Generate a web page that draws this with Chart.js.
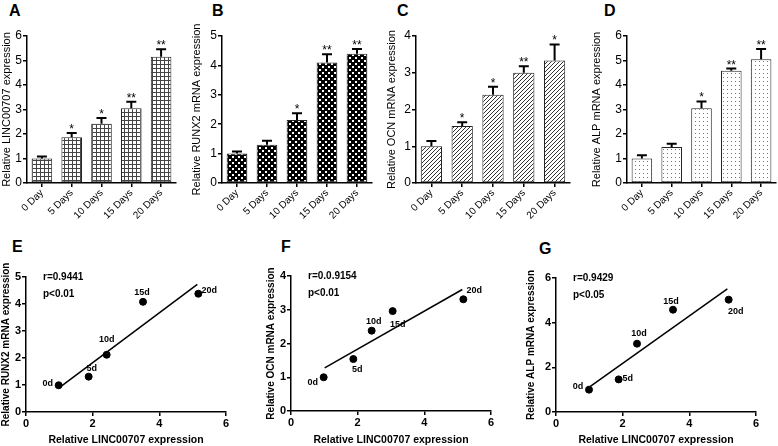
<!DOCTYPE html>
<html>
<head>
<meta charset="utf-8">
<title>LINC00707 osteogenic differentiation</title>
<script src="https://cdn.jsdelivr.net/npm/chart.js"></script>
<style>
  body { margin:0; width:778px; height:446px; position:relative; background:#fff; overflow:hidden;
         font-family:"Liberation Sans", Arial, sans-serif; }
  canvas { position:absolute; }
  .lab { position:absolute; font-weight:bold; font-size:16px; line-height:16px; color:#000; }
</style>
</head>
<body>
<div class="lab" style="left:9px;top:3px">A</div>
<div class="lab" style="left:212px;top:3px">B</div>
<div class="lab" style="left:397px;top:3px">C</div>
<div class="lab" style="left:604px;top:3px">D</div>
<div class="lab" style="left:12px;top:239px">E</div>
<div class="lab" style="left:281px;top:239px">F</div>
<div class="lab" style="left:539px;top:241px">G</div>

<canvas id="cA" width="185" height="225" style="left:0;top:0"></canvas>
<canvas id="cB" width="190" height="225" style="left:190px;top:0"></canvas>
<canvas id="cC" width="190" height="225" style="left:385px;top:0"></canvas>
<canvas id="cD" width="188" height="225" style="left:590px;top:0"></canvas>
<canvas id="cE" width="250" height="221" style="left:0;top:225px"></canvas>
<canvas id="cF" width="250" height="221" style="left:265px;top:225px"></canvas>
<canvas id="cG" width="253" height="221" style="left:525px;top:225px"></canvas>

<script>
// ---- data ----
const days = ['0 Day', '5 Days', '10 Days', '15 Days', '20 Days'];

const lincMean  = [1.00, 1.87, 2.42, 3.05, 5.15];
const lincErr   = [0.08, 0.17, 0.23, 0.27, 0.31];
const lincStars = ['', '*', '*', '**', '**'];

const runx2Mean  = [1.00, 1.30, 2.14, 4.10, 4.40];
const runx2Err   = [0.07, 0.14, 0.23, 0.28, 0.16];
const runx2Stars = ['', '', '*', '**', '**'];

const ocnMean  = [1.00, 1.55, 2.40, 3.00, 3.33];
const ocnErr   = [0.14, 0.10, 0.22, 0.18, 0.44];
const ocnStars = ['', '*', '*', '**', '*'];

const alpMean  = [1.00, 1.47, 3.05, 4.58, 5.05];
const alpErr   = [0.13, 0.13, 0.28, 0.09, 0.42];
const alpStars = ['', '', '*', '**', '**'];

const pointLabels = ['0d', '5d', '10d', '15d', '20d'];

const eX = [0.98, 1.88, 2.42, 3.51, 5.17];
const eY = [0.99, 1.31, 2.12, 4.08, 4.38];
const eFitX = [1.03, 5.14];
const eFitY = [0.93, 4.73];

const fX = [0.98, 1.87, 2.42, 3.05, 5.17];
const fY = [1.00, 1.54, 2.38, 2.96, 3.31];
const fFitX = [1.01, 5.14];
const fFitY = [1.28, 3.60];

const gX = [0.99, 1.88, 2.43, 3.51, 5.18];
const gY = [1.00, 1.46, 3.06, 4.58, 5.03];
const gFitX = [1.03, 5.14];
const gFitY = [1.15, 5.51];

Chart.defaults.font.family = '"Liberation Sans", Arial, sans-serif';
Chart.defaults.color = '#000';

// ---- fill patterns for the bars ----
function tile(size, draw) {
  const c = document.createElement('canvas');
  c.width = size; c.height = size;
  const g = c.getContext('2d');
  draw(g, size);
  return g.createPattern(c, 'repeat');
}
const patGrid = tile(4, (g, s) => {
  g.fillStyle = '#fff'; g.fillRect(0, 0, s, s);
  g.fillStyle = '#444'; g.fillRect(0, 0, s, 1); g.fillRect(0, 0, 1, s);
});
const patDiamond = tile(6, (g, s) => {
  g.fillStyle = '#000'; g.fillRect(0, 0, s, s);
  g.fillStyle = '#fff'; g.fillRect(0, 0, 2, 2); g.fillRect(3, 3, 2, 2);
});
const patHatch = tile(4, (g, s) => {
  g.fillStyle = '#fff'; g.fillRect(0, 0, s, s);
  g.strokeStyle = '#333'; g.lineWidth = 1;
  g.beginPath();
  g.moveTo(-1, s + 1); g.lineTo(s + 1, -1);
  g.moveTo(-1, 1); g.lineTo(1, -1);
  g.moveTo(s - 1, s + 1); g.lineTo(s + 1, s - 1);
  g.stroke();
});
const patDots = tile(4, (g, s) => {
  g.fillStyle = '#fff'; g.fillRect(0, 0, s, s);
  g.fillStyle = '#777'; g.fillRect(1, 1, 1, 1);
});

// error bars (upward only) and significance stars
function errPlugin(mean, err, stars) {
  return {
    id: 'errbars',
    afterDatasetsDraw(chart) {
      const ctx = chart.ctx, xs = chart.scales.x, ys = chart.scales.y;
      ctx.save();
      ctx.strokeStyle = '#000';
      ctx.lineWidth = 2;
      mean.forEach((m, i) => {
        const x = xs.getPixelForValue(i);
        const y0 = ys.getPixelForValue(m);
        const y1 = ys.getPixelForValue(m + err[i]);
        ctx.beginPath();
        ctx.moveTo(x, y0); ctx.lineTo(x, y1);
        ctx.moveTo(x - 5, y1); ctx.lineTo(x + 5, y1);
        ctx.stroke();
        if (stars[i]) {
          ctx.fillStyle = '#000';
          ctx.font = '12px "Liberation Sans", Arial, sans-serif';
          ctx.textAlign = 'center';
          ctx.textBaseline = 'alphabetic';
          ctx.fillText(stars[i], x, y1);
        }
      });
      ctx.restore();
    }
  };
}

function barChart(id, mean, err, stars, yMax, title, pattern, box) {
  new Chart(document.getElementById(id), {
    type: 'bar',
    data: {
      labels: days,
      datasets: [{
        data: mean,
        backgroundColor: pattern,
        borderColor: '#222',
        borderWidth: 1,
        borderSkipped: false,
        categoryPercentage: 1,
        barPercentage: 0.69
      }]
    },
    options: {
      responsive: false,
      animation: false,
      layout: { padding: { left: 0, top: box.top, right: box.right, bottom: 0 } },
      plugins: { legend: { display: false }, tooltip: { enabled: false } },
      scales: {
        x: {
          ticks: { font: { size: 10 }, minRotation: 45, maxRotation: 45, padding: 0 },
          grid: { drawOnChartArea: false, offset: false, color: '#000', tickLength: 4, lineWidth: 1.5 },
          border: { color: '#000', width: 1.5 },
          afterFit: s => { s.height = box.xh; }
        },
        y: {
          min: 0, max: yMax,
          ticks: { stepSize: 1, font: { size: 12 }, padding: 1 },
          grid: { drawOnChartArea: false, color: '#000', tickLength: 4, lineWidth: 1.5 },
          border: { color: '#000', width: 1.5 },
          title: { display: true, text: title, font: { size: 11 }, padding: 0 },
          afterFit: s => { s.width = box.yw; }
        }
      }
    },
    plugins: [errPlugin(mean, err, stars)]
  });
}

barChart('cA', lincMean, lincErr, lincStars, 6, 'Relative LINC00707 expression', patGrid,
  { top: 36, right: 9, xh: 42, yw: 27 });
barChart('cB', runx2Mean, runx2Err, runx2Stars, 5, 'Relative RUNX2 mRNA expression', patDiamond,
  { top: 36, right: 8, xh: 42, yw: 32 });
barChart('cC', ocnMean, ocnErr, ocnStars, 4, 'Relative OCN mRNA expression', patHatch,
  { top: 36, right: 5, xh: 42, yw: 31 });
barChart('cD', alpMean, alpErr, alpStars, 6, 'Relative ALP mRNA expression', patDots,
  { top: 36, right: 2, xh: 42, yw: 37 });

// point labels and r / p text for the correlation plots
function scatterText(xs, ys, offs, r, p) {
  return {
    id: 'sctext',
    afterDatasetsDraw(chart) {
      const ctx = chart.ctx, sx = chart.scales.x, sy = chart.scales.y, a = chart.chartArea;
      ctx.save();
      ctx.fillStyle = '#000';
      ctx.textAlign = 'center';
      ctx.textBaseline = 'middle';
      ctx.font = 'bold 9px "Liberation Sans", Arial, sans-serif';
      xs.forEach((v, i) => {
        ctx.fillText(pointLabels[i], sx.getPixelForValue(v) + offs[i][0], sy.getPixelForValue(ys[i]) + offs[i][1]);
      });
      ctx.textAlign = 'left';
      ctx.font = 'bold 10px "Liberation Sans", Arial, sans-serif';
      ctx.fillText(r, a.left + 17, a.top + 0);
      ctx.fillText(p, a.left + 17, a.top + 17);
      ctx.restore();
    }
  };
}

function scatterChart(id, xs, ys, fitX, fitY, yMax, yStep, title, offs, r, p, box) {
  new Chart(document.getElementById(id), {
    type: 'scatter',
    data: {
      datasets: [{
        data: xs.map((v, i) => ({ x: v, y: ys[i] })),
        backgroundColor: '#000', borderColor: '#000', pointRadius: 3.5
      }, {
        type: 'line',
        data: fitX.map((v, i) => ({ x: v, y: fitY[i] })),
        borderColor: '#000', borderWidth: 1.5, pointRadius: 0, fill: false
      }]
    },
    options: {
      responsive: false,
      animation: false,
      layout: { padding: { left: 0, top: box.top, right: box.right, bottom: 0 } },
      plugins: { legend: { display: false }, tooltip: { enabled: false } },
      scales: {
        x: {
          type: 'linear', min: 0, max: 6,
          ticks: { stepSize: 2, font: { size: 11, weight: 'bold' }, padding: 1 },
          grid: { drawOnChartArea: false, color: '#000', tickLength: 4, lineWidth: 1.5 },
          border: { color: '#000', width: 1.5 },
          title: { display: true, text: 'Relative LINC00707 expression', font: { size: 10.5, weight: 'bold' }, padding: 0 },
          afterFit: s => { s.height = box.xh; }
        },
        y: {
          min: 0, max: yMax,
          ticks: { stepSize: yStep, font: { size: 11, weight: 'bold' }, padding: 1 },
          grid: { drawOnChartArea: false, color: '#000', tickLength: 4, lineWidth: 1.5 },
          border: { color: '#000', width: 1.5 },
          title: { display: true, text: title, font: { size: 10, weight: 'bold' }, padding: 0 },
          afterFit: s => { s.width = box.yw; }
        }
      }
    },
    plugins: [scatterText(xs, ys, offs, r, p)]
  });
}

scatterChart('cE', eX, eY, eFitX, eFitY, 5, 1, 'Relative RUNX2 mRNA expression',
  [[-11, -2], [3, -8], [0, -15], [-1, -9], [11, -3]], 'r=0.9441', 'p<0.01',
  { top: 52, right: 24, xh: 34, yw: 26 });
scatterChart('cF', fX, fY, fFitX, fFitY, 4, 1, 'Relative OCN mRNA expression',
  [[-11, 5], [4, 10], [2, -9], [5, 13], [11, -9]], 'r=0.0.9154', 'p<0.01',
  { top: 51, right: 24, xh: 35, yw: 26 });
scatterChart('cG', gX, gY, gFitX, gFitY, 6, 2, 'Relative ALP mRNA expression',
  [[-11, -3], [9, -1], [2, -10], [-2, -8], [7, 12]], 'r=0.9429', 'p<0.05',
  { top: 53, right: 22, xh: 34, yw: 31 });
</script>
</body>
</html>
